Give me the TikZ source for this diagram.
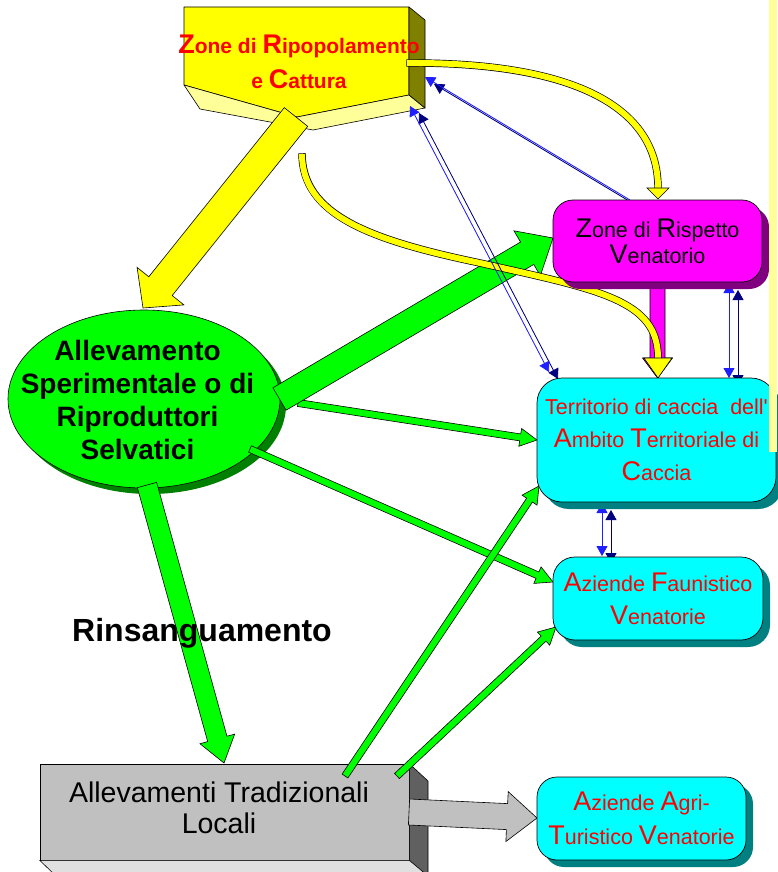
\documentclass[tikz,border=0pt]{standalone}
\usepackage{fontspec}
\setmainfont{Liberation Sans}[Ligatures=TeXOff]
\usetikzlibrary{calc,shadows,arrows.meta,shapes.geometric}
\definecolor{zyel}{RGB}{255,255,0}
\definecolor{zlyel}{RGB}{255,255,153}
\definecolor{zolive}{RGB}{128,128,0}
\definecolor{zmag}{RGB}{255,0,255}
\definecolor{zpur}{RGB}{128,0,128}
\definecolor{zcyan}{RGB}{0,255,255}
\definecolor{zteal}{RGB}{0,128,128}
\definecolor{zgreen}{RGB}{0,255,0}
\definecolor{zdgreen}{RGB}{0,128,0}
\definecolor{zgray}{RGB}{192,192,192}
\definecolor{zdgray}{RGB}{96,96,96}
\definecolor{zlgray}{RGB}{224,224,224}
\definecolor{zblue}{RGB}{30,30,255}
\definecolor{znavy}{RGB}{0,0,128}
\definecolor{zred}{RGB}{255,0,0}
\pgfdeclarelayer{back}
\pgfdeclarelayer{mid}
\pgfdeclarelayer{front}
\pgfsetlayers{back,mid,main,front}
\newcommand\Bg[1]{{\fontsize{27}{26}\selectfont #1}}
% #1 style, #2 from, #3 to, #4 shaft half width, #5 head half width, #6 head length
\newcommand{\fatarrow}[6]{%
  \coordinate (fa-n) at ($(#3)!#6!(#2)$);
  \draw[#1] ($(#2)!#4!90:(#3)$) -- ($(fa-n)!#4!90:(#3)$) -- ($(fa-n)!#5!90:(#3)$)
    -- (#3) -- ($(fa-n)!#5!-90:(#3)$) -- ($(fa-n)!#4!-90:(#3)$) -- ($(#2)!#4!-90:(#3)$) -- cycle;
}
\begin{document}
\begin{tikzpicture}[x=1pt,y=-1pt,
  >={Triangle[length=10pt,width=11pt]},
  face/.style={draw=black, line width=0.6pt, line join=round},
  rbox/.style={rectangle, rounded corners=#1, draw=black, line width=0.7pt, align=center, inner sep=0pt},
  shP/.style={drop shadow={shadow xshift=7pt,shadow yshift=-7pt,fill=zpur,opacity=1}},
  shT/.style={drop shadow={shadow xshift=7pt,shadow yshift=-7pt,fill=zteal,opacity=1}},
  txt/.style={align=center, inner sep=0pt},
  regtxt/.style={txt, font=\fontsize{21.5}{26}\selectfont},
  fatY/.style={fill=zyel, draw=black, line width=0.6pt, line join=miter},
  fatG/.style={fill=zgreen, draw=black, line width=0.6pt},
  fatM/.style={fill=zmag, draw=black, line width=0.6pt},
  fatGr/.style={fill=zgray, draw=black, line width=0.6pt},
  ybo/.style={draw=black, line width=7.4pt, shorten <=-0.7pt},
  ybi/.style={draw=zyel, line width=6pt},
  bl/.style={draw=zblue, fill=zblue, line width=0.8pt},
  bd/.style={draw=znavy, fill=znavy, line width=0.8pt}
]
\useasboundingbox (0,0) rectangle (777,872);

% ---------------- back layer: 3D boxes, ellipse, free text
\begin{pgfonlayer}{back}
\fill[white] (0,0) rectangle (777,872);
\node[ellipse, draw=black, line width=0.6pt, fill=zgreen, minimum width=272pt, minimum height=178pt, inner sep=0pt,
  drop shadow={shadow xshift=6pt,shadow yshift=-6pt,fill=zdgreen,opacity=1}] (ell) at (144,399) {};
\node[txt, font=\bfseries\fontsize{28}{33.3}\selectfont] (ellt) at (137.5,400)
  {Allevamento\\Sperimentale o di\\Riproduttori\\Selvatici};
% Zone di Ripopolamento e Cattura (3D)
\draw[face, fill=zyel] (184,7) -- (409,7) -- (409,95) -- (297,117) -- (184,85) -- cycle;
\draw[face, fill=zlyel] (184,85) -- (200,109) -- (313,130) -- (425,108) -- (409,95) -- (297,117) -- cycle;
\draw[face, fill=zolive] (409,7) -- (425,20) -- (425,108) -- (409,95) -- cycle;
\node[txt, text=zred, font=\bfseries\fontsize{21}{35}\selectfont] (zrc) at (299,62)
  {\Bg{Z}one di \Bg{R}ipopolamento\\e \Bg{C}attura};
% Allevamenti Tradizionali Locali (3D)
\node[draw=black, line width=0.6pt, fill=zgray, minimum width=369pt, minimum height=96pt, inner sep=0pt] (atl) at (224.5,812) {};
\draw[face, fill=zdgray] (atl.north east) -- (428,781) -- (428,880) -- (atl.south east) -- cycle;
\draw[face, fill=zlgray] (atl.south west) -- (56,876) -- (428,876) -- (atl.south east) -- cycle;
\node[txt, font=\fontsize{28.5}{31}\selectfont] (atlt) at (219,807.5) {Allevamenti Tradizionali\\Locali};
\end{pgfonlayer}

% ---------------- main layer: rounded boxes
\node[rbox=20pt, fill=zmag, minimum width=209pt, minimum height=82pt, shP, regtxt] (zrv) at (657.5,241)
  {\Bg{Z}one di \Bg{R}ispetto\\\Bg{V}enatorio};
\node[rbox=25pt, fill=zcyan, minimum width=239pt, minimum height=124pt, shT, regtxt, text=zred,
  font=\fontsize{21.5}{33}\selectfont] (atc) at (656.5,440)
  {Territorio di caccia~ dell'\\\Bg{A}mbito \Bg{T}erritoriale di\\\Bg{C}accia};
\node[rbox=22pt, fill=zcyan, minimum width=210pt, minimum height=83pt, shT, regtxt, text=zred,
  font=\fontsize{21.5}{33}\selectfont] (afv) at (658,598.5)
  {\Bg{A}ziende \Bg{F}aunistico\\\Bg{V}enatorie};
\node[rbox=20pt, fill=zcyan, minimum width=209pt, minimum height=83pt, shT, regtxt, text=zred,
  font=\fontsize{21.5}{34}\selectfont] (aatv) at (641.5,818.5)
  {\Bg{A}ziende \Bg{A}gri-\\\Bg{T}uristico \Bg{V}enatorie};

% ---------------- connector end points
\coordinate (yA) at (296,117);   \coordinate (yB) at (143,308);
\coordinate (gA) at (279.5,399); \coordinate (gB) at (553,238);
\coordinate (g2A) at (147,485);  \coordinate (g2B) at (224,763);
\coordinate (t1A) at (298,403);  \coordinate (t1B) at (537,440);
\coordinate (t2A) at (250,449);  \coordinate (t2B) at (553,582);
\coordinate (t3A) at (345,776);  \coordinate (t3B) at (539,486);
\coordinate (t4A) at (397,776);  \coordinate (t4B) at (556,627);
\coordinate (grA) at (409,812);  \coordinate (grB) at (537,818);
\coordinate (mA) at (657.5,282); \coordinate (mB) at (657.5,378);
\coordinate (c1s) at (407,63);   \coordinate (c1n) at (658,188); \coordinate (c1t) at (658,199);
\coordinate (c2s) at (302,154);  \coordinate (c2m) at (480,263);
\coordinate (c2n) at (658,358);  \coordinate (c2t) at (658,378);
\coordinate (p1a) at (410,106);  \coordinate (p1b) at (549,372);
\coordinate (p2a) at (425,77);   \coordinate (p2b) at (630,200);
\coordinate (p3a) at (729,283);  \coordinate (p3b) at (729,378);
\coordinate (p4a) at (602,503);  \coordinate (p4b) at (602,556);

% ---------------- mid layer: connectors
\begin{pgfonlayer}{mid}
\fatarrow{fatG}{t1A}{t1B}{3.5pt}{9pt}{17pt}
\fatarrow{fatG}{t2A}{t2B}{3.5pt}{9pt}{17pt}
\fatarrow{fatG}{t3A}{t3B}{3.5pt}{9pt}{17pt}
\fatarrow{fatG}{t4A}{t4B}{3.5pt}{9pt}{17pt}
\fatarrow{fatG}{g2A}{g2B}{10pt}{18pt}{25pt}
\fatarrow{fatG}{gA}{gB}{13pt}{26pt}{30pt}
\fatarrow{fatGr}{grA}{grB}{13pt}{25pt}{30pt}
\fatarrow{fatY}{yA}{yB}{15pt}{30pt}{28pt}
\fatarrow{fatM}{mA}{mB}{7.5pt}{15pt}{20pt}
% yellow curved arrows
\draw[ybo] (c1s) .. controls (560,62) and (658,100) .. (c1n);
\draw[ybi] (c1s) .. controls (560,62) and (658,100) .. (c1n);
\draw[fatY] ($(c1n)!11pt!90:(c1t)$) -- (c1t) -- ($(c1n)!11pt!-90:(c1t)$) -- cycle;
\draw[ybo] (c2s) .. controls (302,215) and (370,240) .. (c2m) .. controls (600,290) and (658,300) .. (c2n);
\draw[ybi] (c2s) .. controls (302,215) and (370,240) .. (c2m) .. controls (600,290) and (658,300) .. (c2n);
\draw[fatY] ($(c2n)!14pt!90:(c2t)$) -- (c2t) -- ($(c2n)!14pt!-90:(c2t)$) -- cycle;
% blue double arrows (with dark shadow copies)
\draw[bd, <->] ($(p1a)+(9,7)$) -- ($(p1b)+(9,7)$);
\draw[bl, <->] (p1a) -- (p1b);
\draw[bd, <-] ($(p2a)+(9,7)$) -- ($(p2b)+(9,7)$);
\draw[bl, <-] (p2a) -- (p2b);
\draw[bd, <->] ($(p3a)+(9,7)$) -- ($(p3b)+(9,7)$);
\draw[bl, <->] (p3a) -- (p3b);
\draw[bd, <->] ($(p4a)+(9,7)$) -- ($(p4b)+(9,7)$);
\draw[bl, <->] (p4a) -- (p4b);
\end{pgfonlayer}

% ---------------- front layer: label and right edge strip
\begin{pgfonlayer}{front}
\node[txt, font=\bfseries\fontsize{32}{34}\selectfont] (rins) at (202,633) {Rinsanguamento};
\fill[zlyel] (769,0) rectangle (777,452);
\end{pgfonlayer}
\end{tikzpicture}
\end{document}
